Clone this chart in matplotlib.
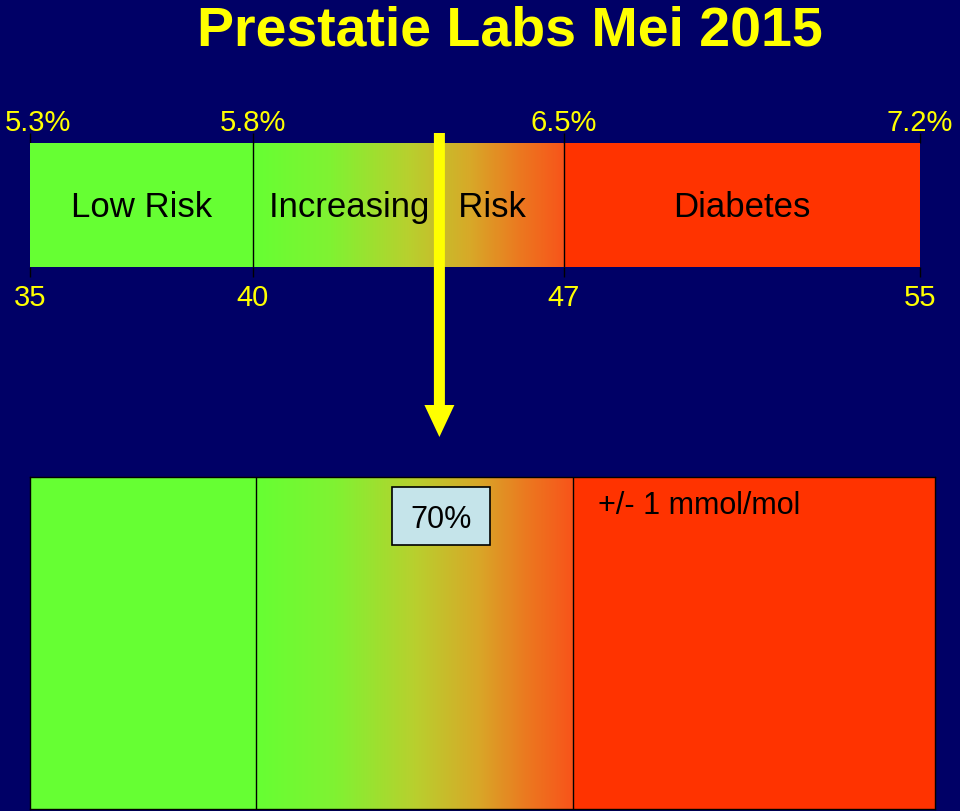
import numpy as np
import matplotlib
matplotlib.use("Agg")
import matplotlib.pyplot as plt
from matplotlib.colors import LinearSegmentedColormap
from matplotlib.patches import FancyArrow, Rectangle
from matplotlib.transforms import blended_transform_factory, ScaledTranslation

# ---- data ----
title = "Prestatie Labs Mei 2015"
bounds = [35, 40, 47, 55]                 # mmol/mol boundaries
pct_labels = ["5.3%", "5.8%", "6.5%", "7.2%"]
segment_labels = ["Low Risk", "Increasing   Risk", "Diabetes"]
lab_value = 44.2                          # arrow position (mmol/mol)
within_pct = "70%"
tolerance_label = "+/- 1 mmol/mol"

# ---- style ----
BG = "#000066"
GREEN = "#66ff33"
RED = "#ff3300"
YELLOW = "#ffff00"
grad_cmap = LinearSegmentedColormap.from_list(
    "risk", [(0.0, "#66ff33"), (0.25, "#80f232"), (0.5, "#b8d02e"),
             (0.7, "#d8a828"), (0.85, "#eb7a20"), (1.0, "#f8541a")])
plt.rcParams['font.family'] = ['Liberation Sans', 'DejaVu Sans']

W, H = 960, 811
fig = plt.figure(figsize=(W / 100, H / 100), dpi=100, facecolor=BG)


def draw_bar(ax):
    ax.axvspan(bounds[0], bounds[1], color=GREEN, lw=0)
    grad = np.linspace(0, 1, 256).reshape(1, -1)
    ax.imshow(grad, cmap=grad_cmap, aspect="auto",
              extent=[bounds[1], bounds[2], 0, 1], interpolation="bilinear")
    ax.axvspan(bounds[2], bounds[3], color=RED, lw=0)
    for b in bounds[1:3]:
        ax.axvline(b, color="black", lw=1)
    ax.set_xlim(bounds[0], bounds[-1])
    ax.set_ylim(0, 1)
    ax.set_facecolor(BG)
    ax.set_yticks([])


# ---- top bar ----
ax1 = fig.add_axes([30 / W, (H - 267) / H, 890 / W, 124 / H])
draw_bar(ax1)
for s in ax1.spines.values():
    s.set_visible(False)
ax1.set_xticks(bounds, [str(b) for b in bounds])
ax1.tick_params(axis="x", direction="out", length=7.5, width=1, color="black",
                labelcolor=YELLOW, labelsize=21, pad=5)
sec = ax1.secondary_xaxis("top")
sec.set_xticks(bounds, pct_labels)
sec.tick_params(axis="x", direction="out", length=7.5, width=1, color="black",
                labelcolor=YELLOW, labelsize=21, pad=-3.5)
for s in sec.spines.values():
    s.set_visible(False)

mids = [(bounds[i] + bounds[i + 1]) / 2 for i in range(3)]
for m, lab in zip(mids, segment_labels):
    xm = m - 0.25 if "Increasing" in lab else m
    ax1.text(xm, (267 - 217) / 124, lab, ha="center", va="baseline",
             fontsize=25, color="black")

# ---- arrow ----
tr = blended_transform_factory(ax1.transData, fig.transFigure)
y_start = (H - 133) / H
y_end = (H - 437) / H
arrow = FancyArrow(lab_value, y_start, 0, y_end - y_start, width=11 / 44.5,
                   head_width=30 / 44.5, head_length=32 / H,
                   length_includes_head=True, color=YELLOW, lw=0,
                   transform=tr, clip_on=False, zorder=5)
fig.add_artist(arrow)

# ---- bottom bar ----
ax2 = fig.add_axes([30 / W, 2 / H, 905 / W, 332 / H])
draw_bar(ax2)
ax2.set_xticks([])
for s in ax2.spines.values():
    s.set_color("black")
    s.set_linewidth(1)

tr2 = blended_transform_factory(ax2.transData, ax2.transAxes)
bw = 98 / 45.25
box = Rectangle((lab_value - 0.12 - bw / 2, 1 - 68 / 332), bw, 58 / 332,
                transform=tr2, facecolor="#c5e4ea", edgecolor="black", lw=1.2,
                zorder=4)
ax2.add_patch(box)
ax2.text(lab_value - 0.12, 1 - 43 / 332, within_pct, transform=tr2,
         ha="center", va="center", fontsize=22, color="black", zorder=5)
ax2.text(bounds[2] + 0.55, 1 - 29 / 332, tolerance_label, transform=tr2,
         ha="left", va="center", fontsize=22, color="black")

# ---- title ----
fig.text(510 / W, 1 - 45 / H, title, ha="center", va="baseline",
         fontsize=40, fontweight="bold", color=YELLOW)

# nudge the first percentage label so it stays inside the figure
fig.canvas.draw()
lbl0 = sec.xaxis.get_majorticklabels()[0]
lbl0.set_transform(lbl0.get_transform() + ScaledTranslation(8 / 100, 0, fig.dpi_scale_trans))

fig.savefig("out.png", dpi=100, facecolor=BG)
